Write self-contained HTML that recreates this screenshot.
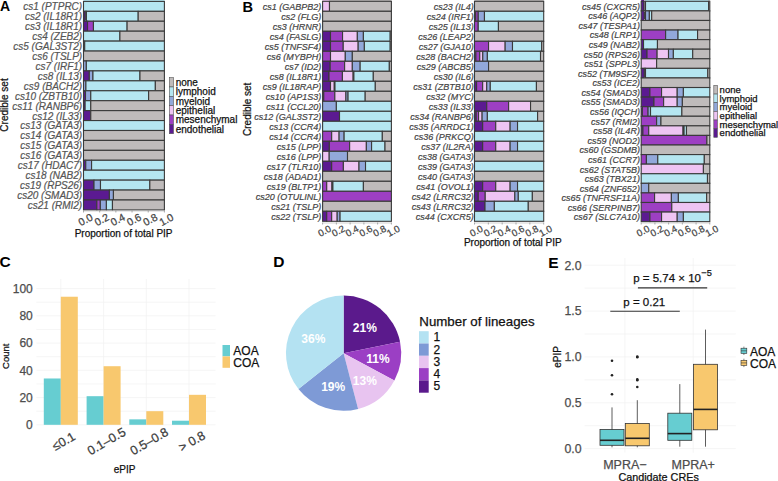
<!DOCTYPE html>
<html><head><meta charset="utf-8"><style>html,body{margin:0;padding:0;background:#fff;}svg{display:block;}</style></head><body>
<svg width="778" height="481" viewBox="0 0 778 481" font-family='"Liberation Sans", sans-serif'>
<rect width="778" height="481" fill="#fff"/>
<rect x="83.50" y="0" width="80.90" height="2.40" fill="#b5e6f1"/>
<rect x="83.50" y="1.40" width="80.90" height="9.93" fill="#b5e6f1" stroke="#3a3a3a" stroke-width="1.1"/>
<rect x="83.50" y="11.33" width="1.78" height="9.93" fill="#5b1a91" stroke="#3a3a3a" stroke-width="1.1"/>
<rect x="85.28" y="11.33" width="1.13" height="9.93" fill="#92a8da" stroke="#3a3a3a" stroke-width="1.1"/>
<rect x="86.41" y="11.33" width="51.78" height="9.93" fill="#b5e6f1" stroke="#3a3a3a" stroke-width="1.1"/>
<rect x="138.19" y="11.33" width="26.21" height="9.93" fill="#bfbbbb" stroke="#3a3a3a" stroke-width="1.1"/>
<rect x="83.50" y="21.26" width="4.05" height="9.93" fill="#5b1a91" stroke="#3a3a3a" stroke-width="1.1"/>
<rect x="87.55" y="21.26" width="5.91" height="9.93" fill="#9d3fc3" stroke="#3a3a3a" stroke-width="1.1"/>
<rect x="93.45" y="21.26" width="33.65" height="9.93" fill="#b5e6f1" stroke="#3a3a3a" stroke-width="1.1"/>
<rect x="127.11" y="21.26" width="37.29" height="9.93" fill="#bfbbbb" stroke="#3a3a3a" stroke-width="1.1"/>
<rect x="83.50" y="31.19" width="36.41" height="9.93" fill="#b5e6f1" stroke="#3a3a3a" stroke-width="1.1"/>
<rect x="119.91" y="31.19" width="44.50" height="9.93" fill="#bfbbbb" stroke="#3a3a3a" stroke-width="1.1"/>
<rect x="83.50" y="41.12" width="1.21" height="9.93" fill="#5b1a91" stroke="#3a3a3a" stroke-width="1.1"/>
<rect x="84.71" y="41.12" width="79.69" height="9.93" fill="#b5e6f1" stroke="#3a3a3a" stroke-width="1.1"/>
<rect x="83.50" y="51.05" width="80.90" height="9.93" fill="#bfbbbb" stroke="#3a3a3a" stroke-width="1.1"/>
<rect x="83.50" y="60.98" width="2.83" height="9.93" fill="#92a8da" stroke="#3a3a3a" stroke-width="1.1"/>
<rect x="86.33" y="60.98" width="78.07" height="9.93" fill="#b5e6f1" stroke="#3a3a3a" stroke-width="1.1"/>
<rect x="83.50" y="70.91" width="5.82" height="9.93" fill="#5b1a91" stroke="#3a3a3a" stroke-width="1.1"/>
<rect x="89.32" y="70.91" width="3.64" height="9.93" fill="#92a8da" stroke="#3a3a3a" stroke-width="1.1"/>
<rect x="92.97" y="70.91" width="47.00" height="9.93" fill="#b5e6f1" stroke="#3a3a3a" stroke-width="1.1"/>
<rect x="139.97" y="70.91" width="24.43" height="9.93" fill="#bfbbbb" stroke="#3a3a3a" stroke-width="1.1"/>
<rect x="83.50" y="80.84" width="2.43" height="9.93" fill="#92a8da" stroke="#3a3a3a" stroke-width="1.1"/>
<rect x="85.93" y="80.84" width="69.41" height="9.93" fill="#b5e6f1" stroke="#3a3a3a" stroke-width="1.1"/>
<rect x="155.34" y="80.84" width="9.06" height="9.93" fill="#bfbbbb" stroke="#3a3a3a" stroke-width="1.1"/>
<rect x="83.50" y="90.77" width="2.02" height="9.93" fill="#5b1a91" stroke="#3a3a3a" stroke-width="1.1"/>
<rect x="85.52" y="90.77" width="5.26" height="9.93" fill="#92a8da" stroke="#3a3a3a" stroke-width="1.1"/>
<rect x="90.78" y="90.77" width="57.84" height="9.93" fill="#b5e6f1" stroke="#3a3a3a" stroke-width="1.1"/>
<rect x="148.62" y="90.77" width="15.78" height="9.93" fill="#bfbbbb" stroke="#3a3a3a" stroke-width="1.1"/>
<rect x="83.50" y="100.70" width="1.62" height="9.93" fill="#5b1a91" stroke="#3a3a3a" stroke-width="1.1"/>
<rect x="85.12" y="100.70" width="5.66" height="9.93" fill="#b5e6f1" stroke="#3a3a3a" stroke-width="1.1"/>
<rect x="90.78" y="100.70" width="73.62" height="9.93" fill="#bfbbbb" stroke="#3a3a3a" stroke-width="1.1"/>
<rect x="83.50" y="110.63" width="7.28" height="9.93" fill="#5b1a91" stroke="#3a3a3a" stroke-width="1.1"/>
<rect x="90.78" y="110.63" width="73.62" height="9.93" fill="#bfbbbb" stroke="#3a3a3a" stroke-width="1.1"/>
<rect x="83.50" y="120.56" width="80.90" height="9.93" fill="#b5e6f1" stroke="#3a3a3a" stroke-width="1.1"/>
<rect x="83.50" y="130.49" width="80.90" height="9.93" fill="#bfbbbb" stroke="#3a3a3a" stroke-width="1.1"/>
<rect x="83.50" y="140.42" width="80.90" height="9.93" fill="#bfbbbb" stroke="#3a3a3a" stroke-width="1.1"/>
<rect x="83.50" y="150.35" width="80.90" height="9.93" fill="#bfbbbb" stroke="#3a3a3a" stroke-width="1.1"/>
<rect x="83.50" y="160.28" width="2.27" height="9.93" fill="#5b1a91" stroke="#3a3a3a" stroke-width="1.1"/>
<rect x="85.77" y="160.28" width="5.82" height="9.93" fill="#92a8da" stroke="#3a3a3a" stroke-width="1.1"/>
<rect x="91.59" y="160.28" width="72.81" height="9.93" fill="#b5e6f1" stroke="#3a3a3a" stroke-width="1.1"/>
<rect x="83.50" y="170.21" width="80.90" height="9.93" fill="#b5e6f1" stroke="#3a3a3a" stroke-width="1.1"/>
<rect x="83.50" y="180.14" width="10.52" height="9.93" fill="#5b1a91" stroke="#3a3a3a" stroke-width="1.1"/>
<rect x="94.02" y="180.14" width="6.47" height="9.93" fill="#92a8da" stroke="#3a3a3a" stroke-width="1.1"/>
<rect x="100.49" y="180.14" width="49.35" height="9.93" fill="#b5e6f1" stroke="#3a3a3a" stroke-width="1.1"/>
<rect x="149.84" y="180.14" width="14.56" height="9.93" fill="#bfbbbb" stroke="#3a3a3a" stroke-width="1.1"/>
<rect x="83.50" y="190.07" width="25.89" height="9.93" fill="#5b1a91" stroke="#3a3a3a" stroke-width="1.1"/>
<rect x="109.39" y="190.07" width="4.05" height="9.93" fill="#92a8da" stroke="#3a3a3a" stroke-width="1.1"/>
<rect x="113.43" y="190.07" width="50.97" height="9.93" fill="#bfbbbb" stroke="#3a3a3a" stroke-width="1.1"/>
<rect x="83.50" y="200.00" width="13.35" height="9.93" fill="#5b1a91" stroke="#3a3a3a" stroke-width="1.1"/>
<rect x="96.85" y="200.00" width="3.48" height="9.93" fill="#9d3fc3" stroke="#3a3a3a" stroke-width="1.1"/>
<rect x="100.33" y="200.00" width="6.07" height="9.93" fill="#92a8da" stroke="#3a3a3a" stroke-width="1.1"/>
<rect x="106.39" y="200.00" width="6.07" height="9.93" fill="#b5e6f1" stroke="#3a3a3a" stroke-width="1.1"/>
<rect x="112.46" y="200.00" width="51.94" height="9.93" fill="#bfbbbb" stroke="#3a3a3a" stroke-width="1.1"/>
<text x="82.20" y="10.27" text-anchor="end" font-style="italic" font-size="10" fill="#555" stroke="#555" stroke-width="0.2">cs1 (PTPRC)</text>
<text x="82.20" y="20.19" text-anchor="end" font-style="italic" font-size="10" fill="#555" stroke="#555" stroke-width="0.2">cs2 (IL18R1)</text>
<text x="82.20" y="30.12" text-anchor="end" font-style="italic" font-size="10" fill="#555" stroke="#555" stroke-width="0.2">cs3 (IL18R1)</text>
<text x="82.20" y="40.05" text-anchor="end" font-style="italic" font-size="10" fill="#555" stroke="#555" stroke-width="0.2">cs4 (ZEB2)</text>
<text x="82.20" y="49.98" text-anchor="end" font-style="italic" font-size="10" fill="#555" stroke="#555" stroke-width="0.2">cs5 (GAL3ST2)</text>
<text x="82.20" y="59.91" text-anchor="end" font-style="italic" font-size="10" fill="#555" stroke="#555" stroke-width="0.2">cs6 (TSLP)</text>
<text x="82.20" y="69.85" text-anchor="end" font-style="italic" font-size="10" fill="#555" stroke="#555" stroke-width="0.2">cs7 (IRF1)</text>
<text x="82.20" y="79.78" text-anchor="end" font-style="italic" font-size="10" fill="#555" stroke="#555" stroke-width="0.2">cs8 (IL13)</text>
<text x="82.20" y="89.71" text-anchor="end" font-style="italic" font-size="10" fill="#555" stroke="#555" stroke-width="0.2">cs9 (BACH2)</text>
<text x="82.20" y="99.64" text-anchor="end" font-style="italic" font-size="10" fill="#555" stroke="#555" stroke-width="0.2">cs10 (ZBTB10)</text>
<text x="82.20" y="109.57" text-anchor="end" font-style="italic" font-size="10" fill="#555" stroke="#555" stroke-width="0.2">cs11 (RANBP6)</text>
<text x="82.20" y="119.50" text-anchor="end" font-style="italic" font-size="10" fill="#555" stroke="#555" stroke-width="0.2">cs12 (IL33)</text>
<text x="82.20" y="129.43" text-anchor="end" font-style="italic" font-size="10" fill="#555" stroke="#555" stroke-width="0.2">cs13 (GATA3)</text>
<text x="82.20" y="139.36" text-anchor="end" font-style="italic" font-size="10" fill="#555" stroke="#555" stroke-width="0.2">cs14 (GATA3)</text>
<text x="82.20" y="149.28" text-anchor="end" font-style="italic" font-size="10" fill="#555" stroke="#555" stroke-width="0.2">cs15 (GATA3)</text>
<text x="82.20" y="159.22" text-anchor="end" font-style="italic" font-size="10" fill="#555" stroke="#555" stroke-width="0.2">cs16 (GATA3)</text>
<text x="82.20" y="169.15" text-anchor="end" font-style="italic" font-size="10" fill="#555" stroke="#555" stroke-width="0.2">cs17 (HDAC7)</text>
<text x="82.20" y="179.08" text-anchor="end" font-style="italic" font-size="10" fill="#555" stroke="#555" stroke-width="0.2">cs18 (NAB2)</text>
<text x="82.20" y="189.00" text-anchor="end" font-style="italic" font-size="10" fill="#555" stroke="#555" stroke-width="0.2">cs19 (RPS26)</text>
<text x="82.20" y="198.94" text-anchor="end" font-style="italic" font-size="10" fill="#555" stroke="#555" stroke-width="0.2">cs20 (SMAD3)</text>
<text x="82.20" y="208.87" text-anchor="end" font-style="italic" font-size="10" fill="#555" stroke="#555" stroke-width="0.2">cs21 (RMI2)</text>
<line x1="83.50" y1="211.00" x2="164.40" y2="211.00" stroke="#c8c8c8" stroke-width="0.8"/>
<line x1="83.50" y1="210.50" x2="83.50" y2="212.50" stroke="#888" stroke-width="0.7"/>
<text x="0" y="0" transform="translate(85.30,219.30) rotate(-28)" text-anchor="middle" dominant-baseline="central" font-size="10.5" fill="#444" stroke="#444" stroke-width="0.25">0.0</text>
<line x1="99.68" y1="210.50" x2="99.68" y2="212.50" stroke="#888" stroke-width="0.7"/>
<text x="0" y="0" transform="translate(101.48,219.30) rotate(-28)" text-anchor="middle" dominant-baseline="central" font-size="10.5" fill="#444" stroke="#444" stroke-width="0.25">0.2</text>
<line x1="115.86" y1="210.50" x2="115.86" y2="212.50" stroke="#888" stroke-width="0.7"/>
<text x="0" y="0" transform="translate(117.66,219.30) rotate(-28)" text-anchor="middle" dominant-baseline="central" font-size="10.5" fill="#444" stroke="#444" stroke-width="0.25">0.4</text>
<line x1="132.04" y1="210.50" x2="132.04" y2="212.50" stroke="#888" stroke-width="0.7"/>
<text x="0" y="0" transform="translate(133.84,219.30) rotate(-28)" text-anchor="middle" dominant-baseline="central" font-size="10.5" fill="#444" stroke="#444" stroke-width="0.25">0.6</text>
<line x1="148.22" y1="210.50" x2="148.22" y2="212.50" stroke="#888" stroke-width="0.7"/>
<text x="0" y="0" transform="translate(150.02,219.30) rotate(-28)" text-anchor="middle" dominant-baseline="central" font-size="10.5" fill="#444" stroke="#444" stroke-width="0.25">0.8</text>
<line x1="164.40" y1="210.50" x2="164.40" y2="212.50" stroke="#888" stroke-width="0.7"/>
<text x="0" y="0" transform="translate(166.20,219.30) rotate(-28)" text-anchor="middle" dominant-baseline="central" font-size="10.5" fill="#444" stroke="#444" stroke-width="0.25">1.0</text>
<text x="123.6" y="236.8" text-anchor="middle" font-size="10" fill="#111" stroke="#111" stroke-width="0.25">Proportion of total PIP</text>
<text transform="translate(8,105) rotate(-90)" text-anchor="middle" font-size="10" fill="#111" stroke="#111" stroke-width="0.25">Credible set</text>
<rect x="169.30" y="77.60" width="4.20" height="9.35" fill="#bfbbbb" stroke="#555" stroke-width="0.6"/>
<text x="175.70" y="85.87" font-size="10" fill="#111" stroke="#111" stroke-width="0.25">none</text>
<rect x="169.30" y="86.95" width="4.20" height="9.35" fill="#b5e6f1" stroke="#555" stroke-width="0.6"/>
<text x="175.70" y="95.22" font-size="10" fill="#111" stroke="#111" stroke-width="0.25">lymphoid</text>
<rect x="169.30" y="96.30" width="4.20" height="9.35" fill="#92a8da" stroke="#555" stroke-width="0.6"/>
<text x="175.70" y="104.57" font-size="10" fill="#111" stroke="#111" stroke-width="0.25">myeloid</text>
<rect x="169.30" y="105.65" width="4.20" height="9.35" fill="#eec4f3" stroke="#555" stroke-width="0.6"/>
<text x="175.70" y="113.92" font-size="10" fill="#111" stroke="#111" stroke-width="0.25">epithelial</text>
<rect x="169.30" y="115.00" width="4.20" height="9.35" fill="#9d3fc3" stroke="#555" stroke-width="0.6"/>
<text x="175.70" y="123.27" font-size="10" fill="#111" stroke="#111" stroke-width="0.25">mesenchymal</text>
<rect x="169.30" y="124.35" width="4.20" height="9.35" fill="#5b1a91" stroke="#555" stroke-width="0.6"/>
<text x="175.70" y="132.62" font-size="10" fill="#111" stroke="#111" stroke-width="0.25">endothelial</text>
<text x="0" y="11.3" font-size="14" font-weight="bold" fill="#000">A</text>
<text x="242.6" y="11.6" font-size="14.6" font-weight="bold" fill="#000">B</text>
<text transform="translate(250.5,109.3) rotate(-90)" text-anchor="middle" font-size="10" fill="#111" stroke="#111" stroke-width="0.25">Credible set</text>
<rect x="322.60" y="0" width="6.88" height="2.30" fill="#eec4f3"/>
<rect x="322.60" y="1.30" width="6.88" height="10.00" fill="#eec4f3" stroke="#3a3a3a" stroke-width="1.1"/>
<rect x="329.48" y="0" width="61.92" height="2.30" fill="#bfbbbb"/>
<rect x="329.48" y="1.30" width="61.92" height="10.00" fill="#bfbbbb" stroke="#3a3a3a" stroke-width="1.1"/>
<rect x="322.60" y="11.30" width="68.80" height="10.00" fill="#bfbbbb" stroke="#3a3a3a" stroke-width="1.1"/>
<rect x="322.60" y="21.30" width="68.80" height="10.00" fill="#bfbbbb" stroke="#3a3a3a" stroke-width="1.1"/>
<rect x="322.60" y="31.30" width="7.91" height="10.00" fill="#5b1a91" stroke="#3a3a3a" stroke-width="1.1"/>
<rect x="330.51" y="31.30" width="12.04" height="10.00" fill="#9d3fc3" stroke="#3a3a3a" stroke-width="1.1"/>
<rect x="342.55" y="31.30" width="14.79" height="10.00" fill="#eec4f3" stroke="#3a3a3a" stroke-width="1.1"/>
<rect x="357.34" y="31.30" width="6.05" height="10.00" fill="#92a8da" stroke="#3a3a3a" stroke-width="1.1"/>
<rect x="363.40" y="31.30" width="26.83" height="10.00" fill="#b5e6f1" stroke="#3a3a3a" stroke-width="1.1"/>
<rect x="390.23" y="31.30" width="1.17" height="10.00" fill="#bfbbbb" stroke="#3a3a3a" stroke-width="1.1"/>
<rect x="322.60" y="41.30" width="7.91" height="10.00" fill="#5b1a91" stroke="#3a3a3a" stroke-width="1.1"/>
<rect x="330.51" y="41.30" width="12.73" height="10.00" fill="#9d3fc3" stroke="#3a3a3a" stroke-width="1.1"/>
<rect x="343.24" y="41.30" width="14.93" height="10.00" fill="#eec4f3" stroke="#3a3a3a" stroke-width="1.1"/>
<rect x="358.17" y="41.30" width="6.19" height="10.00" fill="#92a8da" stroke="#3a3a3a" stroke-width="1.1"/>
<rect x="364.36" y="41.30" width="25.87" height="10.00" fill="#b5e6f1" stroke="#3a3a3a" stroke-width="1.1"/>
<rect x="390.23" y="41.30" width="1.17" height="10.00" fill="#bfbbbb" stroke="#3a3a3a" stroke-width="1.1"/>
<rect x="322.60" y="51.30" width="7.91" height="10.00" fill="#9d3fc3" stroke="#3a3a3a" stroke-width="1.1"/>
<rect x="330.51" y="51.30" width="14.79" height="10.00" fill="#eec4f3" stroke="#3a3a3a" stroke-width="1.1"/>
<rect x="345.30" y="51.30" width="7.02" height="10.00" fill="#92a8da" stroke="#3a3a3a" stroke-width="1.1"/>
<rect x="352.32" y="51.30" width="39.08" height="10.00" fill="#bfbbbb" stroke="#3a3a3a" stroke-width="1.1"/>
<rect x="322.60" y="61.30" width="7.57" height="10.00" fill="#5b1a91" stroke="#3a3a3a" stroke-width="1.1"/>
<rect x="330.17" y="61.30" width="14.45" height="10.00" fill="#9d3fc3" stroke="#3a3a3a" stroke-width="1.1"/>
<rect x="344.62" y="61.30" width="7.71" height="10.00" fill="#eec4f3" stroke="#3a3a3a" stroke-width="1.1"/>
<rect x="352.32" y="61.30" width="7.84" height="10.00" fill="#92a8da" stroke="#3a3a3a" stroke-width="1.1"/>
<rect x="360.16" y="61.30" width="29.17" height="10.00" fill="#b5e6f1" stroke="#3a3a3a" stroke-width="1.1"/>
<rect x="389.34" y="61.30" width="2.06" height="10.00" fill="#bfbbbb" stroke="#3a3a3a" stroke-width="1.1"/>
<rect x="322.60" y="71.30" width="6.40" height="10.00" fill="#5b1a91" stroke="#3a3a3a" stroke-width="1.1"/>
<rect x="329.00" y="71.30" width="13.42" height="10.00" fill="#9d3fc3" stroke="#3a3a3a" stroke-width="1.1"/>
<rect x="342.41" y="71.30" width="10.73" height="10.00" fill="#eec4f3" stroke="#3a3a3a" stroke-width="1.1"/>
<rect x="353.15" y="71.30" width="0.76" height="10.00" fill="#92a8da" stroke="#3a3a3a" stroke-width="1.1"/>
<rect x="353.90" y="71.30" width="19.40" height="10.00" fill="#b5e6f1" stroke="#3a3a3a" stroke-width="1.1"/>
<rect x="373.31" y="71.30" width="18.09" height="10.00" fill="#bfbbbb" stroke="#3a3a3a" stroke-width="1.1"/>
<rect x="322.60" y="81.30" width="7.91" height="10.00" fill="#5b1a91" stroke="#3a3a3a" stroke-width="1.1"/>
<rect x="330.51" y="81.30" width="3.78" height="10.00" fill="#eec4f3" stroke="#3a3a3a" stroke-width="1.1"/>
<rect x="334.30" y="81.30" width="0.69" height="10.00" fill="#92a8da" stroke="#3a3a3a" stroke-width="1.1"/>
<rect x="334.98" y="81.30" width="40.32" height="10.00" fill="#b5e6f1" stroke="#3a3a3a" stroke-width="1.1"/>
<rect x="375.30" y="81.30" width="16.10" height="10.00" fill="#bfbbbb" stroke="#3a3a3a" stroke-width="1.1"/>
<rect x="322.60" y="91.30" width="1.17" height="10.00" fill="#5b1a91" stroke="#3a3a3a" stroke-width="1.1"/>
<rect x="323.77" y="91.30" width="11.08" height="10.00" fill="#9d3fc3" stroke="#3a3a3a" stroke-width="1.1"/>
<rect x="334.85" y="91.30" width="11.08" height="10.00" fill="#eec4f3" stroke="#3a3a3a" stroke-width="1.1"/>
<rect x="345.92" y="91.30" width="2.13" height="10.00" fill="#92a8da" stroke="#3a3a3a" stroke-width="1.1"/>
<rect x="348.06" y="91.30" width="17.13" height="10.00" fill="#b5e6f1" stroke="#3a3a3a" stroke-width="1.1"/>
<rect x="365.19" y="91.30" width="26.21" height="10.00" fill="#bfbbbb" stroke="#3a3a3a" stroke-width="1.1"/>
<rect x="322.60" y="101.30" width="13.76" height="10.00" fill="#92a8da" stroke="#3a3a3a" stroke-width="1.1"/>
<rect x="336.36" y="101.30" width="55.04" height="10.00" fill="#b5e6f1" stroke="#3a3a3a" stroke-width="1.1"/>
<rect x="322.60" y="111.30" width="16.92" height="10.00" fill="#5b1a91" stroke="#3a3a3a" stroke-width="1.1"/>
<rect x="339.52" y="111.30" width="51.88" height="10.00" fill="#b5e6f1" stroke="#3a3a3a" stroke-width="1.1"/>
<rect x="322.60" y="121.30" width="68.80" height="10.00" fill="#b5e6f1" stroke="#3a3a3a" stroke-width="1.1"/>
<rect x="322.60" y="131.30" width="9.08" height="10.00" fill="#9d3fc3" stroke="#3a3a3a" stroke-width="1.1"/>
<rect x="331.68" y="131.30" width="7.43" height="10.00" fill="#eec4f3" stroke="#3a3a3a" stroke-width="1.1"/>
<rect x="339.11" y="131.30" width="5.02" height="10.00" fill="#92a8da" stroke="#3a3a3a" stroke-width="1.1"/>
<rect x="344.13" y="131.30" width="38.18" height="10.00" fill="#b5e6f1" stroke="#3a3a3a" stroke-width="1.1"/>
<rect x="382.32" y="131.30" width="9.08" height="10.00" fill="#bfbbbb" stroke="#3a3a3a" stroke-width="1.1"/>
<rect x="322.60" y="141.30" width="6.74" height="10.00" fill="#5b1a91" stroke="#3a3a3a" stroke-width="1.1"/>
<rect x="329.34" y="141.30" width="20.30" height="10.00" fill="#9d3fc3" stroke="#3a3a3a" stroke-width="1.1"/>
<rect x="349.64" y="141.30" width="16.72" height="10.00" fill="#eec4f3" stroke="#3a3a3a" stroke-width="1.1"/>
<rect x="366.36" y="141.30" width="5.23" height="10.00" fill="#92a8da" stroke="#3a3a3a" stroke-width="1.1"/>
<rect x="371.59" y="141.30" width="13.42" height="10.00" fill="#b5e6f1" stroke="#3a3a3a" stroke-width="1.1"/>
<rect x="385.00" y="141.30" width="6.40" height="10.00" fill="#bfbbbb" stroke="#3a3a3a" stroke-width="1.1"/>
<rect x="322.60" y="151.30" width="6.60" height="10.00" fill="#eec4f3" stroke="#3a3a3a" stroke-width="1.1"/>
<rect x="329.20" y="151.30" width="18.30" height="10.00" fill="#92a8da" stroke="#3a3a3a" stroke-width="1.1"/>
<rect x="347.51" y="151.30" width="43.89" height="10.00" fill="#bfbbbb" stroke="#3a3a3a" stroke-width="1.1"/>
<rect x="322.60" y="161.30" width="9.08" height="10.00" fill="#5b1a91" stroke="#3a3a3a" stroke-width="1.1"/>
<rect x="331.68" y="161.30" width="11.70" height="10.00" fill="#9d3fc3" stroke="#3a3a3a" stroke-width="1.1"/>
<rect x="343.38" y="161.30" width="15.62" height="10.00" fill="#eec4f3" stroke="#3a3a3a" stroke-width="1.1"/>
<rect x="359.00" y="161.30" width="6.54" height="10.00" fill="#92a8da" stroke="#3a3a3a" stroke-width="1.1"/>
<rect x="365.53" y="161.30" width="25.87" height="10.00" fill="#b5e6f1" stroke="#3a3a3a" stroke-width="1.1"/>
<rect x="322.60" y="171.30" width="68.80" height="10.00" fill="#bfbbbb" stroke="#3a3a3a" stroke-width="1.1"/>
<rect x="322.60" y="181.30" width="4.13" height="10.00" fill="#9d3fc3" stroke="#3a3a3a" stroke-width="1.1"/>
<rect x="326.73" y="181.30" width="5.23" height="10.00" fill="#eec4f3" stroke="#3a3a3a" stroke-width="1.1"/>
<rect x="331.96" y="181.30" width="0.96" height="10.00" fill="#92a8da" stroke="#3a3a3a" stroke-width="1.1"/>
<rect x="332.92" y="181.30" width="30.48" height="10.00" fill="#b5e6f1" stroke="#3a3a3a" stroke-width="1.1"/>
<rect x="363.40" y="181.30" width="28.00" height="10.00" fill="#bfbbbb" stroke="#3a3a3a" stroke-width="1.1"/>
<rect x="322.60" y="191.30" width="68.80" height="10.00" fill="#9d3fc3" stroke="#3a3a3a" stroke-width="1.1"/>
<rect x="322.60" y="201.30" width="68.80" height="10.00" fill="#bfbbbb" stroke="#3a3a3a" stroke-width="1.1"/>
<rect x="322.60" y="211.30" width="4.13" height="10.00" fill="#5b1a91" stroke="#3a3a3a" stroke-width="1.1"/>
<rect x="326.73" y="211.30" width="4.95" height="10.00" fill="#9d3fc3" stroke="#3a3a3a" stroke-width="1.1"/>
<rect x="331.68" y="211.30" width="5.50" height="10.00" fill="#eec4f3" stroke="#3a3a3a" stroke-width="1.1"/>
<rect x="337.19" y="211.30" width="2.89" height="10.00" fill="#92a8da" stroke="#3a3a3a" stroke-width="1.1"/>
<rect x="340.08" y="211.30" width="51.32" height="10.00" fill="#b5e6f1" stroke="#3a3a3a" stroke-width="1.1"/>
<text x="321.20" y="9.90" text-anchor="end" font-style="italic" font-size="9" fill="#444" stroke="#444" stroke-width="0.2">cs1 (GABPB2)</text>
<text x="321.20" y="19.90" text-anchor="end" font-style="italic" font-size="9" fill="#444" stroke="#444" stroke-width="0.2">cs2 (FLG)</text>
<text x="321.20" y="29.90" text-anchor="end" font-style="italic" font-size="9" fill="#444" stroke="#444" stroke-width="0.2">cs3 (HRNR)</text>
<text x="321.20" y="39.90" text-anchor="end" font-style="italic" font-size="9" fill="#444" stroke="#444" stroke-width="0.2">cs4 (FASLG)</text>
<text x="321.20" y="49.90" text-anchor="end" font-style="italic" font-size="9" fill="#444" stroke="#444" stroke-width="0.2">cs5 (TNFSF4)</text>
<text x="321.20" y="59.90" text-anchor="end" font-style="italic" font-size="9" fill="#444" stroke="#444" stroke-width="0.2">cs6 (MYBPH)</text>
<text x="321.20" y="69.90" text-anchor="end" font-style="italic" font-size="9" fill="#444" stroke="#444" stroke-width="0.2">cs7 (ID2)</text>
<text x="321.20" y="79.90" text-anchor="end" font-style="italic" font-size="9" fill="#444" stroke="#444" stroke-width="0.2">cs8 (IL18R1)</text>
<text x="321.20" y="89.90" text-anchor="end" font-style="italic" font-size="9" fill="#444" stroke="#444" stroke-width="0.2">cs9 (IL18RAP)</text>
<text x="321.20" y="99.90" text-anchor="end" font-style="italic" font-size="9" fill="#444" stroke="#444" stroke-width="0.2">cs10 (AP1S3)</text>
<text x="321.20" y="109.90" text-anchor="end" font-style="italic" font-size="9" fill="#444" stroke="#444" stroke-width="0.2">cs11 (CCL20)</text>
<text x="321.20" y="119.90" text-anchor="end" font-style="italic" font-size="9" fill="#444" stroke="#444" stroke-width="0.2">cs12 (GAL3ST2)</text>
<text x="321.20" y="129.90" text-anchor="end" font-style="italic" font-size="9" fill="#444" stroke="#444" stroke-width="0.2">cs13 (CCR4)</text>
<text x="321.20" y="139.90" text-anchor="end" font-style="italic" font-size="9" fill="#444" stroke="#444" stroke-width="0.2">cs14 (CCR4)</text>
<text x="321.20" y="149.90" text-anchor="end" font-style="italic" font-size="9" fill="#444" stroke="#444" stroke-width="0.2">cs15 (LPP)</text>
<text x="321.20" y="159.90" text-anchor="end" font-style="italic" font-size="9" fill="#444" stroke="#444" stroke-width="0.2">cs16 (LPP)</text>
<text x="321.20" y="169.90" text-anchor="end" font-style="italic" font-size="9" fill="#444" stroke="#444" stroke-width="0.2">cs17 (TLR10)</text>
<text x="321.20" y="179.90" text-anchor="end" font-style="italic" font-size="9" fill="#444" stroke="#444" stroke-width="0.2">cs18 (ADAD1)</text>
<text x="321.20" y="189.90" text-anchor="end" font-style="italic" font-size="9" fill="#444" stroke="#444" stroke-width="0.2">cs19 (BLTP1)</text>
<text x="321.20" y="199.90" text-anchor="end" font-style="italic" font-size="9" fill="#444" stroke="#444" stroke-width="0.2">cs20 (OTULINL)</text>
<text x="321.20" y="209.90" text-anchor="end" font-style="italic" font-size="9" fill="#444" stroke="#444" stroke-width="0.2">cs21 (TSLP)</text>
<text x="321.20" y="219.90" text-anchor="end" font-style="italic" font-size="9" fill="#444" stroke="#444" stroke-width="0.2">cs22 (TSLP)</text>
<line x1="322.60" y1="223.00" x2="391.40" y2="223.00" stroke="#c8c8c8" stroke-width="0.8"/>
<line x1="322.60" y1="222.50" x2="322.60" y2="224.50" stroke="#888" stroke-width="0.7"/>
<text x="0" y="0" transform="translate(324.40,230.80) rotate(-28)" text-anchor="middle" dominant-baseline="central" font-size="9.5" fill="#444" stroke="#444" stroke-width="0.25">0.0</text>
<line x1="336.36" y1="222.50" x2="336.36" y2="224.50" stroke="#888" stroke-width="0.7"/>
<text x="0" y="0" transform="translate(338.16,230.80) rotate(-28)" text-anchor="middle" dominant-baseline="central" font-size="9.5" fill="#444" stroke="#444" stroke-width="0.25">0.2</text>
<line x1="350.12" y1="222.50" x2="350.12" y2="224.50" stroke="#888" stroke-width="0.7"/>
<text x="0" y="0" transform="translate(351.92,230.80) rotate(-28)" text-anchor="middle" dominant-baseline="central" font-size="9.5" fill="#444" stroke="#444" stroke-width="0.25">0.4</text>
<line x1="363.88" y1="222.50" x2="363.88" y2="224.50" stroke="#888" stroke-width="0.7"/>
<text x="0" y="0" transform="translate(365.68,230.80) rotate(-28)" text-anchor="middle" dominant-baseline="central" font-size="9.5" fill="#444" stroke="#444" stroke-width="0.25">0.6</text>
<line x1="377.64" y1="222.50" x2="377.64" y2="224.50" stroke="#888" stroke-width="0.7"/>
<text x="0" y="0" transform="translate(379.44,230.80) rotate(-28)" text-anchor="middle" dominant-baseline="central" font-size="9.5" fill="#444" stroke="#444" stroke-width="0.25">0.8</text>
<line x1="391.40" y1="222.50" x2="391.40" y2="224.50" stroke="#888" stroke-width="0.7"/>
<text x="0" y="0" transform="translate(393.20,230.80) rotate(-28)" text-anchor="middle" dominant-baseline="central" font-size="9.5" fill="#444" stroke="#444" stroke-width="0.25">1.0</text>
<rect x="474.50" y="0" width="69.20" height="2.30" fill="#bfbbbb"/>
<rect x="474.50" y="1.30" width="69.20" height="10.00" fill="#bfbbbb" stroke="#3a3a3a" stroke-width="1.1"/>
<rect x="474.50" y="11.30" width="1.18" height="10.00" fill="#5b1a91" stroke="#3a3a3a" stroke-width="1.1"/>
<rect x="475.68" y="11.30" width="2.56" height="10.00" fill="#9d3fc3" stroke="#3a3a3a" stroke-width="1.1"/>
<rect x="478.24" y="11.30" width="6.23" height="10.00" fill="#92a8da" stroke="#3a3a3a" stroke-width="1.1"/>
<rect x="484.46" y="11.30" width="59.24" height="10.00" fill="#b5e6f1" stroke="#3a3a3a" stroke-width="1.1"/>
<rect x="474.50" y="21.30" width="3.74" height="10.00" fill="#9d3fc3" stroke="#3a3a3a" stroke-width="1.1"/>
<rect x="478.24" y="21.30" width="20.21" height="10.00" fill="#b5e6f1" stroke="#3a3a3a" stroke-width="1.1"/>
<rect x="498.44" y="21.30" width="45.26" height="10.00" fill="#bfbbbb" stroke="#3a3a3a" stroke-width="1.1"/>
<rect x="474.50" y="31.30" width="69.20" height="10.00" fill="#bfbbbb" stroke="#3a3a3a" stroke-width="1.1"/>
<rect x="474.50" y="41.30" width="14.05" height="10.00" fill="#9d3fc3" stroke="#3a3a3a" stroke-width="1.1"/>
<rect x="488.55" y="41.30" width="16.61" height="10.00" fill="#eec4f3" stroke="#3a3a3a" stroke-width="1.1"/>
<rect x="505.16" y="41.30" width="7.34" height="10.00" fill="#92a8da" stroke="#3a3a3a" stroke-width="1.1"/>
<rect x="512.49" y="41.30" width="29.20" height="10.00" fill="#b5e6f1" stroke="#3a3a3a" stroke-width="1.1"/>
<rect x="541.69" y="41.30" width="2.01" height="10.00" fill="#bfbbbb" stroke="#3a3a3a" stroke-width="1.1"/>
<rect x="474.50" y="51.30" width="1.38" height="10.00" fill="#5b1a91" stroke="#3a3a3a" stroke-width="1.1"/>
<rect x="475.88" y="51.30" width="3.88" height="10.00" fill="#9d3fc3" stroke="#3a3a3a" stroke-width="1.1"/>
<rect x="479.76" y="51.30" width="3.04" height="10.00" fill="#eec4f3" stroke="#3a3a3a" stroke-width="1.1"/>
<rect x="482.80" y="51.30" width="4.57" height="10.00" fill="#92a8da" stroke="#3a3a3a" stroke-width="1.1"/>
<rect x="487.37" y="51.30" width="53.15" height="10.00" fill="#b5e6f1" stroke="#3a3a3a" stroke-width="1.1"/>
<rect x="540.52" y="51.30" width="3.18" height="10.00" fill="#bfbbbb" stroke="#3a3a3a" stroke-width="1.1"/>
<rect x="474.50" y="61.30" width="14.05" height="10.00" fill="#92a8da" stroke="#3a3a3a" stroke-width="1.1"/>
<rect x="488.55" y="61.30" width="55.15" height="10.00" fill="#bfbbbb" stroke="#3a3a3a" stroke-width="1.1"/>
<rect x="474.50" y="71.30" width="69.20" height="10.00" fill="#bfbbbb" stroke="#3a3a3a" stroke-width="1.1"/>
<rect x="474.50" y="81.30" width="2.08" height="10.00" fill="#5b1a91" stroke="#3a3a3a" stroke-width="1.1"/>
<rect x="476.58" y="81.30" width="6.09" height="10.00" fill="#9d3fc3" stroke="#3a3a3a" stroke-width="1.1"/>
<rect x="482.67" y="81.30" width="4.08" height="10.00" fill="#eec4f3" stroke="#3a3a3a" stroke-width="1.1"/>
<rect x="486.75" y="81.30" width="3.53" height="10.00" fill="#92a8da" stroke="#3a3a3a" stroke-width="1.1"/>
<rect x="490.28" y="81.30" width="46.16" height="10.00" fill="#b5e6f1" stroke="#3a3a3a" stroke-width="1.1"/>
<rect x="536.43" y="81.30" width="7.27" height="10.00" fill="#bfbbbb" stroke="#3a3a3a" stroke-width="1.1"/>
<rect x="474.50" y="91.30" width="69.20" height="10.00" fill="#bfbbbb" stroke="#3a3a3a" stroke-width="1.1"/>
<rect x="474.50" y="101.30" width="12.25" height="10.00" fill="#5b1a91" stroke="#3a3a3a" stroke-width="1.1"/>
<rect x="486.75" y="101.30" width="21.87" height="10.00" fill="#9d3fc3" stroke="#3a3a3a" stroke-width="1.1"/>
<rect x="508.62" y="101.30" width="21.94" height="10.00" fill="#eec4f3" stroke="#3a3a3a" stroke-width="1.1"/>
<rect x="530.55" y="101.30" width="13.15" height="10.00" fill="#bfbbbb" stroke="#3a3a3a" stroke-width="1.1"/>
<rect x="474.50" y="111.30" width="1.73" height="10.00" fill="#5b1a91" stroke="#3a3a3a" stroke-width="1.1"/>
<rect x="476.23" y="111.30" width="2.35" height="10.00" fill="#9d3fc3" stroke="#3a3a3a" stroke-width="1.1"/>
<rect x="478.58" y="111.30" width="3.53" height="10.00" fill="#eec4f3" stroke="#3a3a3a" stroke-width="1.1"/>
<rect x="482.11" y="111.30" width="5.26" height="10.00" fill="#92a8da" stroke="#3a3a3a" stroke-width="1.1"/>
<rect x="487.37" y="111.30" width="50.24" height="10.00" fill="#b5e6f1" stroke="#3a3a3a" stroke-width="1.1"/>
<rect x="537.61" y="111.30" width="6.09" height="10.00" fill="#bfbbbb" stroke="#3a3a3a" stroke-width="1.1"/>
<rect x="474.50" y="121.30" width="8.17" height="10.00" fill="#5b1a91" stroke="#3a3a3a" stroke-width="1.1"/>
<rect x="482.67" y="121.30" width="13.08" height="10.00" fill="#9d3fc3" stroke="#3a3a3a" stroke-width="1.1"/>
<rect x="495.74" y="121.30" width="14.39" height="10.00" fill="#eec4f3" stroke="#3a3a3a" stroke-width="1.1"/>
<rect x="510.14" y="121.30" width="7.40" height="10.00" fill="#92a8da" stroke="#3a3a3a" stroke-width="1.1"/>
<rect x="517.54" y="121.30" width="26.16" height="10.00" fill="#b5e6f1" stroke="#3a3a3a" stroke-width="1.1"/>
<rect x="474.50" y="131.30" width="69.20" height="10.00" fill="#b5e6f1" stroke="#3a3a3a" stroke-width="1.1"/>
<rect x="474.50" y="141.30" width="8.17" height="10.00" fill="#5b1a91" stroke="#3a3a3a" stroke-width="1.1"/>
<rect x="482.67" y="141.30" width="13.08" height="10.00" fill="#9d3fc3" stroke="#3a3a3a" stroke-width="1.1"/>
<rect x="495.74" y="141.30" width="14.39" height="10.00" fill="#eec4f3" stroke="#3a3a3a" stroke-width="1.1"/>
<rect x="510.14" y="141.30" width="7.40" height="10.00" fill="#92a8da" stroke="#3a3a3a" stroke-width="1.1"/>
<rect x="517.54" y="141.30" width="26.16" height="10.00" fill="#b5e6f1" stroke="#3a3a3a" stroke-width="1.1"/>
<rect x="474.50" y="151.30" width="69.20" height="10.00" fill="#bfbbbb" stroke="#3a3a3a" stroke-width="1.1"/>
<rect x="474.50" y="161.30" width="69.20" height="10.00" fill="#b5e6f1" stroke="#3a3a3a" stroke-width="1.1"/>
<rect x="474.50" y="171.30" width="69.20" height="10.00" fill="#bfbbbb" stroke="#3a3a3a" stroke-width="1.1"/>
<rect x="474.50" y="181.30" width="8.17" height="10.00" fill="#5b1a91" stroke="#3a3a3a" stroke-width="1.1"/>
<rect x="482.67" y="181.30" width="13.08" height="10.00" fill="#9d3fc3" stroke="#3a3a3a" stroke-width="1.1"/>
<rect x="495.74" y="181.30" width="14.39" height="10.00" fill="#eec4f3" stroke="#3a3a3a" stroke-width="1.1"/>
<rect x="510.14" y="181.30" width="7.40" height="10.00" fill="#92a8da" stroke="#3a3a3a" stroke-width="1.1"/>
<rect x="517.54" y="181.30" width="26.16" height="10.00" fill="#b5e6f1" stroke="#3a3a3a" stroke-width="1.1"/>
<rect x="474.50" y="191.30" width="3.74" height="10.00" fill="#5b1a91" stroke="#3a3a3a" stroke-width="1.1"/>
<rect x="478.24" y="191.30" width="6.99" height="10.00" fill="#9d3fc3" stroke="#3a3a3a" stroke-width="1.1"/>
<rect x="485.23" y="191.30" width="29.62" height="10.00" fill="#eec4f3" stroke="#3a3a3a" stroke-width="1.1"/>
<rect x="514.84" y="191.30" width="3.46" height="10.00" fill="#92a8da" stroke="#3a3a3a" stroke-width="1.1"/>
<rect x="518.30" y="191.30" width="14.05" height="10.00" fill="#b5e6f1" stroke="#3a3a3a" stroke-width="1.1"/>
<rect x="532.35" y="191.30" width="11.35" height="10.00" fill="#bfbbbb" stroke="#3a3a3a" stroke-width="1.1"/>
<rect x="474.50" y="201.30" width="10.52" height="10.00" fill="#5b1a91" stroke="#3a3a3a" stroke-width="1.1"/>
<rect x="485.02" y="201.30" width="9.34" height="10.00" fill="#92a8da" stroke="#3a3a3a" stroke-width="1.1"/>
<rect x="494.36" y="201.30" width="33.91" height="10.00" fill="#b5e6f1" stroke="#3a3a3a" stroke-width="1.1"/>
<rect x="528.27" y="201.30" width="15.43" height="10.00" fill="#bfbbbb" stroke="#3a3a3a" stroke-width="1.1"/>
<rect x="474.50" y="211.30" width="69.20" height="10.00" fill="#b5e6f1" stroke="#3a3a3a" stroke-width="1.1"/>
<text x="473.70" y="9.90" text-anchor="end" font-style="italic" font-size="9" fill="#444" stroke="#444" stroke-width="0.2">cs23 (IL4)</text>
<text x="473.70" y="19.90" text-anchor="end" font-style="italic" font-size="9" fill="#444" stroke="#444" stroke-width="0.2">cs24 (IRF1)</text>
<text x="473.70" y="29.90" text-anchor="end" font-style="italic" font-size="9" fill="#444" stroke="#444" stroke-width="0.2">cs25 (IL13)</text>
<text x="473.70" y="39.90" text-anchor="end" font-style="italic" font-size="9" fill="#444" stroke="#444" stroke-width="0.2">cs26 (LEAP2)</text>
<text x="473.70" y="49.90" text-anchor="end" font-style="italic" font-size="9" fill="#444" stroke="#444" stroke-width="0.2">cs27 (GJA10)</text>
<text x="473.70" y="59.90" text-anchor="end" font-style="italic" font-size="9" fill="#444" stroke="#444" stroke-width="0.2">cs28 (BACH2)</text>
<text x="473.70" y="69.90" text-anchor="end" font-style="italic" font-size="9" fill="#444" stroke="#444" stroke-width="0.2">cs29 (ABCB5)</text>
<text x="473.70" y="79.90" text-anchor="end" font-style="italic" font-size="9" fill="#444" stroke="#444" stroke-width="0.2">cs30 (IL6)</text>
<text x="473.70" y="89.90" text-anchor="end" font-style="italic" font-size="9" fill="#444" stroke="#444" stroke-width="0.2">cs31 (ZBTB10)</text>
<text x="473.70" y="99.90" text-anchor="end" font-style="italic" font-size="9" fill="#444" stroke="#444" stroke-width="0.2">cs32 (MYC)</text>
<text x="473.70" y="109.90" text-anchor="end" font-style="italic" font-size="9" fill="#444" stroke="#444" stroke-width="0.2">cs33 (IL33)</text>
<text x="473.70" y="119.90" text-anchor="end" font-style="italic" font-size="9" fill="#444" stroke="#444" stroke-width="0.2">cs34 (RANBP6)</text>
<text x="473.70" y="129.90" text-anchor="end" font-style="italic" font-size="9" fill="#444" stroke="#444" stroke-width="0.2">cs35 (ARRDC1)</text>
<text x="473.70" y="139.90" text-anchor="end" font-style="italic" font-size="9" fill="#444" stroke="#444" stroke-width="0.2">cs36 (PRKCQ)</text>
<text x="473.70" y="149.90" text-anchor="end" font-style="italic" font-size="9" fill="#444" stroke="#444" stroke-width="0.2">cs37 (IL2RA)</text>
<text x="473.70" y="159.90" text-anchor="end" font-style="italic" font-size="9" fill="#444" stroke="#444" stroke-width="0.2">cs38 (GATA3)</text>
<text x="473.70" y="169.90" text-anchor="end" font-style="italic" font-size="9" fill="#444" stroke="#444" stroke-width="0.2">cs39 (GATA3)</text>
<text x="473.70" y="179.90" text-anchor="end" font-style="italic" font-size="9" fill="#444" stroke="#444" stroke-width="0.2">cs40 (GATA3)</text>
<text x="473.70" y="189.90" text-anchor="end" font-style="italic" font-size="9" fill="#444" stroke="#444" stroke-width="0.2">cs41 (OVOL1)</text>
<text x="473.70" y="199.90" text-anchor="end" font-style="italic" font-size="9" fill="#444" stroke="#444" stroke-width="0.2">cs42 (LRRC32)</text>
<text x="473.70" y="209.90" text-anchor="end" font-style="italic" font-size="9" fill="#444" stroke="#444" stroke-width="0.2">cs43 (LRRC32)</text>
<text x="473.70" y="219.90" text-anchor="end" font-style="italic" font-size="9" fill="#444" stroke="#444" stroke-width="0.2">cs44 (CXCR5)</text>
<line x1="474.50" y1="223.00" x2="543.70" y2="223.00" stroke="#c8c8c8" stroke-width="0.8"/>
<line x1="474.50" y1="222.50" x2="474.50" y2="224.50" stroke="#888" stroke-width="0.7"/>
<text x="0" y="0" transform="translate(476.30,230.80) rotate(-28)" text-anchor="middle" dominant-baseline="central" font-size="9.5" fill="#444" stroke="#444" stroke-width="0.25">0.0</text>
<line x1="488.34" y1="222.50" x2="488.34" y2="224.50" stroke="#888" stroke-width="0.7"/>
<text x="0" y="0" transform="translate(490.14,230.80) rotate(-28)" text-anchor="middle" dominant-baseline="central" font-size="9.5" fill="#444" stroke="#444" stroke-width="0.25">0.2</text>
<line x1="502.18" y1="222.50" x2="502.18" y2="224.50" stroke="#888" stroke-width="0.7"/>
<text x="0" y="0" transform="translate(503.98,230.80) rotate(-28)" text-anchor="middle" dominant-baseline="central" font-size="9.5" fill="#444" stroke="#444" stroke-width="0.25">0.4</text>
<line x1="516.02" y1="222.50" x2="516.02" y2="224.50" stroke="#888" stroke-width="0.7"/>
<text x="0" y="0" transform="translate(517.82,230.80) rotate(-28)" text-anchor="middle" dominant-baseline="central" font-size="9.5" fill="#444" stroke="#444" stroke-width="0.25">0.6</text>
<line x1="529.86" y1="222.50" x2="529.86" y2="224.50" stroke="#888" stroke-width="0.7"/>
<text x="0" y="0" transform="translate(531.66,230.80) rotate(-28)" text-anchor="middle" dominant-baseline="central" font-size="9.5" fill="#444" stroke="#444" stroke-width="0.25">0.8</text>
<line x1="543.70" y1="222.50" x2="543.70" y2="224.50" stroke="#888" stroke-width="0.7"/>
<text x="0" y="0" transform="translate(545.50,230.80) rotate(-28)" text-anchor="middle" dominant-baseline="central" font-size="9.5" fill="#444" stroke="#444" stroke-width="0.25">1.0</text>
<text x="512.8" y="245.8" text-anchor="middle" font-size="10" fill="#111" stroke="#111" stroke-width="0.25">Proportion of total PIP</text>
<rect x="641.20" y="0" width="2.88" height="2.30" fill="#5b1a91"/>
<rect x="641.20" y="1.30" width="2.88" height="9.58" fill="#5b1a91" stroke="#3a3a3a" stroke-width="1.1"/>
<rect x="644.08" y="0" width="1.44" height="2.30" fill="#eec4f3"/>
<rect x="644.08" y="1.30" width="1.44" height="9.58" fill="#eec4f3" stroke="#3a3a3a" stroke-width="1.1"/>
<rect x="645.52" y="0" width="63.11" height="2.30" fill="#b5e6f1"/>
<rect x="645.52" y="1.30" width="63.11" height="9.58" fill="#b5e6f1" stroke="#3a3a3a" stroke-width="1.1"/>
<rect x="708.63" y="0" width="1.17" height="2.30" fill="#bfbbbb"/>
<rect x="708.63" y="1.30" width="1.17" height="9.58" fill="#bfbbbb" stroke="#3a3a3a" stroke-width="1.1"/>
<rect x="641.20" y="10.88" width="3.16" height="9.58" fill="#5b1a91" stroke="#3a3a3a" stroke-width="1.1"/>
<rect x="644.36" y="10.88" width="1.17" height="9.58" fill="#eec4f3" stroke="#3a3a3a" stroke-width="1.1"/>
<rect x="645.52" y="10.88" width="3.84" height="9.58" fill="#92a8da" stroke="#3a3a3a" stroke-width="1.1"/>
<rect x="649.36" y="10.88" width="2.33" height="9.58" fill="#b5e6f1" stroke="#3a3a3a" stroke-width="1.1"/>
<rect x="651.70" y="10.88" width="58.10" height="9.58" fill="#bfbbbb" stroke="#3a3a3a" stroke-width="1.1"/>
<rect x="641.20" y="20.46" width="68.60" height="9.58" fill="#bfbbbb" stroke="#3a3a3a" stroke-width="1.1"/>
<rect x="641.20" y="30.04" width="24.42" height="9.58" fill="#9d3fc3" stroke="#3a3a3a" stroke-width="1.1"/>
<rect x="665.62" y="30.04" width="12.42" height="9.58" fill="#92a8da" stroke="#3a3a3a" stroke-width="1.1"/>
<rect x="678.04" y="30.04" width="19.55" height="9.58" fill="#b5e6f1" stroke="#3a3a3a" stroke-width="1.1"/>
<rect x="697.59" y="30.04" width="12.21" height="9.58" fill="#bfbbbb" stroke="#3a3a3a" stroke-width="1.1"/>
<rect x="641.20" y="39.62" width="2.33" height="9.58" fill="#5b1a91" stroke="#3a3a3a" stroke-width="1.1"/>
<rect x="643.53" y="39.62" width="13.93" height="9.58" fill="#b5e6f1" stroke="#3a3a3a" stroke-width="1.1"/>
<rect x="657.46" y="39.62" width="52.34" height="9.58" fill="#bfbbbb" stroke="#3a3a3a" stroke-width="1.1"/>
<rect x="641.20" y="49.20" width="5.83" height="9.58" fill="#5b1a91" stroke="#3a3a3a" stroke-width="1.1"/>
<rect x="647.03" y="49.20" width="10.08" height="9.58" fill="#9d3fc3" stroke="#3a3a3a" stroke-width="1.1"/>
<rect x="657.12" y="49.20" width="11.39" height="9.58" fill="#eec4f3" stroke="#3a3a3a" stroke-width="1.1"/>
<rect x="668.50" y="49.20" width="4.87" height="9.58" fill="#92a8da" stroke="#3a3a3a" stroke-width="1.1"/>
<rect x="673.37" y="49.20" width="19.35" height="9.58" fill="#b5e6f1" stroke="#3a3a3a" stroke-width="1.1"/>
<rect x="692.72" y="49.20" width="17.08" height="9.58" fill="#bfbbbb" stroke="#3a3a3a" stroke-width="1.1"/>
<rect x="641.20" y="58.78" width="15.43" height="9.58" fill="#eec4f3" stroke="#3a3a3a" stroke-width="1.1"/>
<rect x="656.63" y="58.78" width="53.16" height="9.58" fill="#bfbbbb" stroke="#3a3a3a" stroke-width="1.1"/>
<rect x="641.20" y="68.36" width="3.16" height="9.58" fill="#5b1a91" stroke="#3a3a3a" stroke-width="1.1"/>
<rect x="644.36" y="68.36" width="1.17" height="9.58" fill="#eec4f3" stroke="#3a3a3a" stroke-width="1.1"/>
<rect x="645.52" y="68.36" width="62.29" height="9.58" fill="#b5e6f1" stroke="#3a3a3a" stroke-width="1.1"/>
<rect x="707.81" y="68.36" width="1.99" height="9.58" fill="#bfbbbb" stroke="#3a3a3a" stroke-width="1.1"/>
<rect x="641.20" y="77.94" width="68.60" height="9.58" fill="#bfbbbb" stroke="#3a3a3a" stroke-width="1.1"/>
<rect x="641.20" y="87.52" width="8.71" height="9.58" fill="#5b1a91" stroke="#3a3a3a" stroke-width="1.1"/>
<rect x="649.91" y="87.52" width="11.66" height="9.58" fill="#9d3fc3" stroke="#3a3a3a" stroke-width="1.1"/>
<rect x="661.57" y="87.52" width="15.64" height="9.58" fill="#eec4f3" stroke="#3a3a3a" stroke-width="1.1"/>
<rect x="677.22" y="87.52" width="6.17" height="9.58" fill="#92a8da" stroke="#3a3a3a" stroke-width="1.1"/>
<rect x="683.39" y="87.52" width="26.41" height="9.58" fill="#b5e6f1" stroke="#3a3a3a" stroke-width="1.1"/>
<rect x="641.20" y="97.10" width="12.76" height="9.58" fill="#5b1a91" stroke="#3a3a3a" stroke-width="1.1"/>
<rect x="653.96" y="97.10" width="9.67" height="9.58" fill="#9d3fc3" stroke="#3a3a3a" stroke-width="1.1"/>
<rect x="663.63" y="97.10" width="13.58" height="9.58" fill="#eec4f3" stroke="#3a3a3a" stroke-width="1.1"/>
<rect x="677.22" y="97.10" width="5.14" height="9.58" fill="#92a8da" stroke="#3a3a3a" stroke-width="1.1"/>
<rect x="682.36" y="97.10" width="27.44" height="9.58" fill="#bfbbbb" stroke="#3a3a3a" stroke-width="1.1"/>
<rect x="641.20" y="106.68" width="1.17" height="9.58" fill="#5b1a91" stroke="#3a3a3a" stroke-width="1.1"/>
<rect x="642.37" y="106.68" width="5.69" height="9.58" fill="#9d3fc3" stroke="#3a3a3a" stroke-width="1.1"/>
<rect x="648.06" y="106.68" width="2.47" height="9.58" fill="#92a8da" stroke="#3a3a3a" stroke-width="1.1"/>
<rect x="650.53" y="106.68" width="31.35" height="9.58" fill="#b5e6f1" stroke="#3a3a3a" stroke-width="1.1"/>
<rect x="681.88" y="106.68" width="27.92" height="9.58" fill="#bfbbbb" stroke="#3a3a3a" stroke-width="1.1"/>
<rect x="641.20" y="116.26" width="15.43" height="9.58" fill="#9d3fc3" stroke="#3a3a3a" stroke-width="1.1"/>
<rect x="656.63" y="116.26" width="4.32" height="9.58" fill="#92a8da" stroke="#3a3a3a" stroke-width="1.1"/>
<rect x="660.96" y="116.26" width="48.84" height="9.58" fill="#bfbbbb" stroke="#3a3a3a" stroke-width="1.1"/>
<rect x="641.20" y="125.84" width="1.72" height="9.58" fill="#5b1a91" stroke="#3a3a3a" stroke-width="1.1"/>
<rect x="642.92" y="125.84" width="5.83" height="9.58" fill="#9d3fc3" stroke="#3a3a3a" stroke-width="1.1"/>
<rect x="648.75" y="125.84" width="34.30" height="9.58" fill="#eec4f3" stroke="#3a3a3a" stroke-width="1.1"/>
<rect x="683.05" y="125.84" width="1.03" height="9.58" fill="#92a8da" stroke="#3a3a3a" stroke-width="1.1"/>
<rect x="684.08" y="125.84" width="2.40" height="9.58" fill="#b5e6f1" stroke="#3a3a3a" stroke-width="1.1"/>
<rect x="686.48" y="125.84" width="23.32" height="9.58" fill="#bfbbbb" stroke="#3a3a3a" stroke-width="1.1"/>
<rect x="641.20" y="135.42" width="65.72" height="9.58" fill="#9d3fc3" stroke="#3a3a3a" stroke-width="1.1"/>
<rect x="706.92" y="135.42" width="2.88" height="9.58" fill="#bfbbbb" stroke="#3a3a3a" stroke-width="1.1"/>
<rect x="641.20" y="145.00" width="68.60" height="9.58" fill="#bfbbbb" stroke="#3a3a3a" stroke-width="1.1"/>
<rect x="641.20" y="154.58" width="5.21" height="9.58" fill="#9d3fc3" stroke="#3a3a3a" stroke-width="1.1"/>
<rect x="646.41" y="154.58" width="11.39" height="9.58" fill="#92a8da" stroke="#3a3a3a" stroke-width="1.1"/>
<rect x="657.80" y="154.58" width="46.51" height="9.58" fill="#b5e6f1" stroke="#3a3a3a" stroke-width="1.1"/>
<rect x="704.31" y="154.58" width="5.49" height="9.58" fill="#bfbbbb" stroke="#3a3a3a" stroke-width="1.1"/>
<rect x="641.20" y="164.16" width="62.22" height="9.58" fill="#eec4f3" stroke="#3a3a3a" stroke-width="1.1"/>
<rect x="703.42" y="164.16" width="6.38" height="9.58" fill="#bfbbbb" stroke="#3a3a3a" stroke-width="1.1"/>
<rect x="641.20" y="173.74" width="66.27" height="9.58" fill="#b5e6f1" stroke="#3a3a3a" stroke-width="1.1"/>
<rect x="707.47" y="173.74" width="2.33" height="9.58" fill="#bfbbbb" stroke="#3a3a3a" stroke-width="1.1"/>
<rect x="641.20" y="183.32" width="7.55" height="9.58" fill="#92a8da" stroke="#3a3a3a" stroke-width="1.1"/>
<rect x="648.75" y="183.32" width="61.05" height="9.58" fill="#bfbbbb" stroke="#3a3a3a" stroke-width="1.1"/>
<rect x="641.20" y="192.90" width="13.38" height="9.58" fill="#9d3fc3" stroke="#3a3a3a" stroke-width="1.1"/>
<rect x="654.58" y="192.90" width="16.81" height="9.58" fill="#eec4f3" stroke="#3a3a3a" stroke-width="1.1"/>
<rect x="671.38" y="192.90" width="7.00" height="9.58" fill="#92a8da" stroke="#3a3a3a" stroke-width="1.1"/>
<rect x="678.38" y="192.90" width="28.26" height="9.58" fill="#b5e6f1" stroke="#3a3a3a" stroke-width="1.1"/>
<rect x="706.64" y="192.90" width="3.16" height="9.58" fill="#bfbbbb" stroke="#3a3a3a" stroke-width="1.1"/>
<rect x="641.20" y="202.48" width="30.60" height="9.58" fill="#9d3fc3" stroke="#3a3a3a" stroke-width="1.1"/>
<rect x="671.80" y="202.48" width="38.00" height="9.58" fill="#eec4f3" stroke="#3a3a3a" stroke-width="1.1"/>
<rect x="641.20" y="212.06" width="8.71" height="9.58" fill="#5b1a91" stroke="#3a3a3a" stroke-width="1.1"/>
<rect x="649.91" y="212.06" width="11.66" height="9.58" fill="#9d3fc3" stroke="#3a3a3a" stroke-width="1.1"/>
<rect x="661.57" y="212.06" width="15.64" height="9.58" fill="#eec4f3" stroke="#3a3a3a" stroke-width="1.1"/>
<rect x="677.22" y="212.06" width="6.17" height="9.58" fill="#92a8da" stroke="#3a3a3a" stroke-width="1.1"/>
<rect x="683.39" y="212.06" width="26.41" height="9.58" fill="#b5e6f1" stroke="#3a3a3a" stroke-width="1.1"/>
<text x="639.90" y="9.69" text-anchor="end" font-style="italic" font-size="9" fill="#444" stroke="#444" stroke-width="0.2">cs45 (CXCR5)</text>
<text x="639.90" y="19.27" text-anchor="end" font-style="italic" font-size="9" fill="#444" stroke="#444" stroke-width="0.2">cs46 (AQP2)</text>
<text x="639.90" y="28.85" text-anchor="end" font-style="italic" font-size="9" fill="#444" stroke="#444" stroke-width="0.2">cs47 (TESPA1)</text>
<text x="639.90" y="38.43" text-anchor="end" font-style="italic" font-size="9" fill="#444" stroke="#444" stroke-width="0.2">cs48 (LRP1)</text>
<text x="639.90" y="48.01" text-anchor="end" font-style="italic" font-size="9" fill="#444" stroke="#444" stroke-width="0.2">cs49 (NAB2)</text>
<text x="639.90" y="57.59" text-anchor="end" font-style="italic" font-size="9" fill="#444" stroke="#444" stroke-width="0.2">cs50 (RPS26)</text>
<text x="639.90" y="67.17" text-anchor="end" font-style="italic" font-size="9" fill="#444" stroke="#444" stroke-width="0.2">cs51 (SPPL3)</text>
<text x="639.90" y="76.75" text-anchor="end" font-style="italic" font-size="9" fill="#444" stroke="#444" stroke-width="0.2">cs52 (TM9SF2)</text>
<text x="639.90" y="86.33" text-anchor="end" font-style="italic" font-size="9" fill="#444" stroke="#444" stroke-width="0.2">cs53 (ICE2)</text>
<text x="639.90" y="95.91" text-anchor="end" font-style="italic" font-size="9" fill="#444" stroke="#444" stroke-width="0.2">cs54 (SMAD3)</text>
<text x="639.90" y="105.49" text-anchor="end" font-style="italic" font-size="9" fill="#444" stroke="#444" stroke-width="0.2">cs55 (SMAD3)</text>
<text x="639.90" y="115.07" text-anchor="end" font-style="italic" font-size="9" fill="#444" stroke="#444" stroke-width="0.2">cs56 (IQCH)</text>
<text x="639.90" y="124.65" text-anchor="end" font-style="italic" font-size="9" fill="#444" stroke="#444" stroke-width="0.2">cs57 (RMI2)</text>
<text x="639.90" y="134.23" text-anchor="end" font-style="italic" font-size="9" fill="#444" stroke="#444" stroke-width="0.2">cs58 (IL4R)</text>
<text x="639.90" y="143.81" text-anchor="end" font-style="italic" font-size="9" fill="#444" stroke="#444" stroke-width="0.2">cs59 (NOD2)</text>
<text x="639.90" y="153.39" text-anchor="end" font-style="italic" font-size="9" fill="#444" stroke="#444" stroke-width="0.2">cs60 (GSDMB)</text>
<text x="639.90" y="162.97" text-anchor="end" font-style="italic" font-size="9" fill="#444" stroke="#444" stroke-width="0.2">cs61 (CCR7)</text>
<text x="639.90" y="172.55" text-anchor="end" font-style="italic" font-size="9" fill="#444" stroke="#444" stroke-width="0.2">cs62 (STAT5B)</text>
<text x="639.90" y="182.13" text-anchor="end" font-style="italic" font-size="9" fill="#444" stroke="#444" stroke-width="0.2">cs63 (TBX21)</text>
<text x="639.90" y="191.71" text-anchor="end" font-style="italic" font-size="9" fill="#444" stroke="#444" stroke-width="0.2">cs64 (ZNF652)</text>
<text x="639.90" y="201.29" text-anchor="end" font-style="italic" font-size="9" fill="#444" stroke="#444" stroke-width="0.2">cs65 (TNFRSF11A)</text>
<text x="639.90" y="210.87" text-anchor="end" font-style="italic" font-size="9" fill="#444" stroke="#444" stroke-width="0.2">cs66 (SERPINB7)</text>
<text x="639.90" y="220.45" text-anchor="end" font-style="italic" font-size="9" fill="#444" stroke="#444" stroke-width="0.2">cs67 (SLC7A10)</text>
<line x1="641.20" y1="223.00" x2="709.80" y2="223.00" stroke="#c8c8c8" stroke-width="0.8"/>
<line x1="641.20" y1="222.50" x2="641.20" y2="224.50" stroke="#888" stroke-width="0.7"/>
<text x="0" y="0" transform="translate(643.00,230.80) rotate(-28)" text-anchor="middle" dominant-baseline="central" font-size="9.5" fill="#444" stroke="#444" stroke-width="0.25">0.0</text>
<line x1="654.92" y1="222.50" x2="654.92" y2="224.50" stroke="#888" stroke-width="0.7"/>
<text x="0" y="0" transform="translate(656.72,230.80) rotate(-28)" text-anchor="middle" dominant-baseline="central" font-size="9.5" fill="#444" stroke="#444" stroke-width="0.25">0.2</text>
<line x1="668.64" y1="222.50" x2="668.64" y2="224.50" stroke="#888" stroke-width="0.7"/>
<text x="0" y="0" transform="translate(670.44,230.80) rotate(-28)" text-anchor="middle" dominant-baseline="central" font-size="9.5" fill="#444" stroke="#444" stroke-width="0.25">0.4</text>
<line x1="682.36" y1="222.50" x2="682.36" y2="224.50" stroke="#888" stroke-width="0.7"/>
<text x="0" y="0" transform="translate(684.16,230.80) rotate(-28)" text-anchor="middle" dominant-baseline="central" font-size="9.5" fill="#444" stroke="#444" stroke-width="0.25">0.6</text>
<line x1="696.08" y1="222.50" x2="696.08" y2="224.50" stroke="#888" stroke-width="0.7"/>
<text x="0" y="0" transform="translate(697.88,230.80) rotate(-28)" text-anchor="middle" dominant-baseline="central" font-size="9.5" fill="#444" stroke="#444" stroke-width="0.25">0.8</text>
<line x1="709.80" y1="222.50" x2="709.80" y2="224.50" stroke="#888" stroke-width="0.7"/>
<text x="0" y="0" transform="translate(711.60,230.80) rotate(-28)" text-anchor="middle" dominant-baseline="central" font-size="9.5" fill="#444" stroke="#444" stroke-width="0.25">1.0</text>
<rect x="713.80" y="85.40" width="3.60" height="8.65" fill="#bfbbbb" stroke="#555" stroke-width="0.6"/>
<text x="719.60" y="93.13" font-size="9.5" fill="#111" stroke="#111" stroke-width="0.25">none</text>
<rect x="713.80" y="94.05" width="3.60" height="8.65" fill="#b5e6f1" stroke="#555" stroke-width="0.6"/>
<text x="719.60" y="101.78" font-size="9.5" fill="#111" stroke="#111" stroke-width="0.25">lymphoid</text>
<rect x="713.80" y="102.70" width="3.60" height="8.65" fill="#92a8da" stroke="#555" stroke-width="0.6"/>
<text x="719.60" y="110.43" font-size="9.5" fill="#111" stroke="#111" stroke-width="0.25">myeloid</text>
<rect x="713.80" y="111.35" width="3.60" height="8.65" fill="#eec4f3" stroke="#555" stroke-width="0.6"/>
<text x="719.60" y="119.08" font-size="9.5" fill="#111" stroke="#111" stroke-width="0.25">epithelial</text>
<rect x="713.80" y="120.00" width="3.60" height="8.65" fill="#9d3fc3" stroke="#555" stroke-width="0.6"/>
<text x="719.60" y="127.73" font-size="9.5" fill="#111" stroke="#111" stroke-width="0.25">mesenchymal</text>
<rect x="713.80" y="128.65" width="3.60" height="8.65" fill="#5b1a91" stroke="#555" stroke-width="0.6"/>
<text x="719.60" y="136.38" font-size="9.5" fill="#111" stroke="#111" stroke-width="0.25">endothelial</text>
<text x="-0.6" y="267.2" font-size="15.5" font-weight="bold" fill="#000">C</text>
<line x1="36.4" y1="424.80" x2="215.6" y2="424.80" stroke="#f0f0f0" stroke-width="0.7"/>
<line x1="36.4" y1="411.18" x2="215.6" y2="411.18" stroke="#f0f0f0" stroke-width="0.7"/>
<line x1="36.4" y1="397.55" x2="215.6" y2="397.55" stroke="#f0f0f0" stroke-width="0.7"/>
<line x1="36.4" y1="383.93" x2="215.6" y2="383.93" stroke="#f0f0f0" stroke-width="0.7"/>
<line x1="36.4" y1="370.30" x2="215.6" y2="370.30" stroke="#f0f0f0" stroke-width="0.7"/>
<line x1="36.4" y1="356.68" x2="215.6" y2="356.68" stroke="#f0f0f0" stroke-width="0.7"/>
<line x1="36.4" y1="343.05" x2="215.6" y2="343.05" stroke="#f0f0f0" stroke-width="0.7"/>
<line x1="36.4" y1="329.43" x2="215.6" y2="329.43" stroke="#f0f0f0" stroke-width="0.7"/>
<line x1="36.4" y1="315.80" x2="215.6" y2="315.80" stroke="#f0f0f0" stroke-width="0.7"/>
<line x1="36.4" y1="302.18" x2="215.6" y2="302.18" stroke="#f0f0f0" stroke-width="0.7"/>
<line x1="36.4" y1="288.55" x2="215.6" y2="288.55" stroke="#f0f0f0" stroke-width="0.7"/>
<line x1="60.8" y1="279" x2="60.8" y2="424.8" stroke="#f0f0f0" stroke-width="0.7"/>
<line x1="103.6" y1="279" x2="103.6" y2="424.8" stroke="#f0f0f0" stroke-width="0.7"/>
<line x1="146.3" y1="279" x2="146.3" y2="424.8" stroke="#f0f0f0" stroke-width="0.7"/>
<line x1="189.0" y1="279" x2="189.0" y2="424.8" stroke="#f0f0f0" stroke-width="0.7"/>
<rect x="43.80" y="378.48" width="17.0" height="46.33" fill="#66cdd1"/>
<rect x="60.80" y="296.73" width="17.0" height="128.08" fill="#f8c86e"/>
<rect x="86.60" y="396.19" width="17.0" height="28.61" fill="#66cdd1"/>
<rect x="103.60" y="366.21" width="17.0" height="58.59" fill="#f8c86e"/>
<rect x="129.30" y="419.35" width="17.0" height="5.45" fill="#66cdd1"/>
<rect x="146.30" y="411.18" width="17.0" height="13.62" fill="#f8c86e"/>
<rect x="172.00" y="420.71" width="17.0" height="4.09" fill="#66cdd1"/>
<rect x="189.00" y="394.82" width="17.0" height="29.98" fill="#f8c86e"/>
<text x="32.8" y="429.00" text-anchor="end" font-size="12" fill="#4d4d4d" stroke="#4d4d4d" stroke-width="0.25">0</text>
<text x="32.8" y="401.75" text-anchor="end" font-size="12" fill="#4d4d4d" stroke="#4d4d4d" stroke-width="0.25">20</text>
<text x="32.8" y="374.50" text-anchor="end" font-size="12" fill="#4d4d4d" stroke="#4d4d4d" stroke-width="0.25">40</text>
<text x="32.8" y="347.25" text-anchor="end" font-size="12" fill="#4d4d4d" stroke="#4d4d4d" stroke-width="0.25">60</text>
<text x="32.8" y="320.00" text-anchor="end" font-size="12" fill="#4d4d4d" stroke="#4d4d4d" stroke-width="0.25">80</text>
<text x="32.8" y="292.75" text-anchor="end" font-size="12" fill="#4d4d4d" stroke="#4d4d4d" stroke-width="0.25">100</text>
<text transform="translate(63.80,441.5) rotate(-30)" text-anchor="middle" dominant-baseline="central" font-size="12.5" fill="#3d3d3d" stroke="#3d3d3d" stroke-width="0.25">≤0.1</text>
<text transform="translate(106.60,441.5) rotate(-30)" text-anchor="middle" dominant-baseline="central" font-size="12.5" fill="#3d3d3d" stroke="#3d3d3d" stroke-width="0.25">0.1–0.5</text>
<text transform="translate(149.30,441.5) rotate(-30)" text-anchor="middle" dominant-baseline="central" font-size="12.5" fill="#3d3d3d" stroke="#3d3d3d" stroke-width="0.25">0.5–0.8</text>
<text transform="translate(192.00,441.5) rotate(-30)" text-anchor="middle" dominant-baseline="central" font-size="12.5" fill="#3d3d3d" stroke="#3d3d3d" stroke-width="0.25">&gt; 0.8</text>
<text x="124.5" y="472.8" text-anchor="middle" font-size="10" fill="#111" stroke="#111" stroke-width="0.25">ePIP</text>
<text transform="translate(9.2,356.3) rotate(-90)" text-anchor="middle" font-size="9.5" fill="#111" stroke="#111" stroke-width="0.25">Count</text>
<rect x="222.5" y="345" width="7.5" height="11.4" fill="#66cdd1"/>
<rect x="222.5" y="356.4" width="7.5" height="11.4" fill="#f8c86e"/>
<text x="233.3" y="355" font-size="12" fill="#111" stroke="#111" stroke-width="0.25">AOA</text>
<text x="233.3" y="366.6" font-size="12" fill="#111" stroke="#111" stroke-width="0.25">COA</text>
<text x="273.3" y="267.3" font-size="15.5" font-weight="bold" fill="#000">D</text>
<path d="M343.6,353.2 L343.60,295.60 A57.6,57.6 0 0 1 400.04,341.72 Z" fill="#5b1a8c"/>
<path d="M343.6,353.2 L400.04,341.72 A57.6,57.6 0 0 1 394.36,380.42 Z" fill="#9b3fc4"/>
<path d="M343.6,353.2 L394.36,380.42 A57.6,57.6 0 0 1 358.12,408.94 Z" fill="#e8c4f0"/>
<path d="M343.6,353.2 L358.12,408.94 A57.6,57.6 0 0 1 298.46,388.98 Z" fill="#7e9ad6"/>
<path d="M343.6,353.2 L298.46,388.98 A57.6,57.6 0 0 1 343.60,295.60 Z" fill="#b4e2f2"/>
<text x="364.8" y="331.50" text-anchor="middle" font-size="12" font-weight="bold" fill="#fff">21%</text>
<text x="378" y="363.00" text-anchor="middle" font-size="12" font-weight="bold" fill="#fff">11%</text>
<text x="364.8" y="385.30" text-anchor="middle" font-size="12" font-weight="bold" fill="#fff">13%</text>
<text x="333.2" y="391.30" text-anchor="middle" font-size="12" font-weight="bold" fill="#fff">19%</text>
<text x="313.3" y="343.10" text-anchor="middle" font-size="12" font-weight="bold" fill="#fff">36%</text>
<text x="419.3" y="325.6" font-size="13.3" fill="#111" stroke="#111" stroke-width="0.25">Number of lineages</text>
<rect x="419" y="331.20" width="9.7" height="12.3" fill="#b4e2f2"/>
<text x="433.4" y="341.20" font-size="12" fill="#111" stroke="#111" stroke-width="0.25">1</text>
<rect x="419" y="343.50" width="9.7" height="12.3" fill="#7e9ad6"/>
<text x="433.4" y="353.50" font-size="12" fill="#111" stroke="#111" stroke-width="0.25">2</text>
<rect x="419" y="355.80" width="9.7" height="12.3" fill="#e8c4f0"/>
<text x="433.4" y="365.80" font-size="12" fill="#111" stroke="#111" stroke-width="0.25">3</text>
<rect x="419" y="368.10" width="9.7" height="12.3" fill="#9b3fc4"/>
<text x="433.4" y="378.10" font-size="12" fill="#111" stroke="#111" stroke-width="0.25">4</text>
<rect x="419" y="380.40" width="9.7" height="12.3" fill="#5b1a8c"/>
<text x="433.4" y="390.40" font-size="12" fill="#111" stroke="#111" stroke-width="0.25">5</text>
<text x="548.2" y="267.5" font-size="15.5" font-weight="bold" fill="#000">E</text>
<line x1="584.6" y1="448.60" x2="735.8" y2="448.60" stroke="#f0f0f0" stroke-width="0.7"/>
<line x1="584.6" y1="425.68" x2="735.8" y2="425.68" stroke="#f0f0f0" stroke-width="0.7"/>
<line x1="584.6" y1="402.75" x2="735.8" y2="402.75" stroke="#f0f0f0" stroke-width="0.7"/>
<line x1="584.6" y1="379.83" x2="735.8" y2="379.83" stroke="#f0f0f0" stroke-width="0.7"/>
<line x1="584.6" y1="356.90" x2="735.8" y2="356.90" stroke="#f0f0f0" stroke-width="0.7"/>
<line x1="584.6" y1="333.98" x2="735.8" y2="333.98" stroke="#f0f0f0" stroke-width="0.7"/>
<line x1="584.6" y1="311.05" x2="735.8" y2="311.05" stroke="#f0f0f0" stroke-width="0.7"/>
<line x1="584.6" y1="288.12" x2="735.8" y2="288.12" stroke="#f0f0f0" stroke-width="0.7"/>
<line x1="584.6" y1="265.20" x2="735.8" y2="265.20" stroke="#f0f0f0" stroke-width="0.7"/>
<line x1="624.9" y1="258" x2="624.9" y2="452.6" stroke="#f0f0f0" stroke-width="0.7"/>
<line x1="693.2" y1="258" x2="693.2" y2="452.6" stroke="#f0f0f0" stroke-width="0.7"/>
<text x="581.5" y="453.00" text-anchor="end" font-size="12.3" fill="#4d4d4d" stroke="#4d4d4d" stroke-width="0.25">0.0</text>
<text x="581.5" y="407.15" text-anchor="end" font-size="12.3" fill="#4d4d4d" stroke="#4d4d4d" stroke-width="0.25">0.5</text>
<text x="581.5" y="361.30" text-anchor="end" font-size="12.3" fill="#4d4d4d" stroke="#4d4d4d" stroke-width="0.25">1.0</text>
<text x="581.5" y="315.45" text-anchor="end" font-size="12.3" fill="#4d4d4d" stroke="#4d4d4d" stroke-width="0.25">1.5</text>
<text x="581.5" y="269.60" text-anchor="end" font-size="12.3" fill="#4d4d4d" stroke="#4d4d4d" stroke-width="0.25">2.0</text>
<line x1="612.0" y1="407.40" x2="612.0" y2="447.30" stroke="#333" stroke-width="0.8"/>
<rect x="600.00" y="429.50" width="24" height="15.80" fill="#66cdd1" stroke="#333" stroke-width="0.8"/>
<line x1="600.0" y1="440.30" x2="624.0" y2="440.30" stroke="#222" stroke-width="1.6"/>
<circle cx="612.0" cy="360.80" r="1.3" fill="#222"/>
<circle cx="612.0" cy="375.30" r="1.3" fill="#222"/>
<circle cx="612.0" cy="394.30" r="1.3" fill="#222"/>
<line x1="637.3" y1="400.20" x2="637.3" y2="447.30" stroke="#333" stroke-width="0.8"/>
<rect x="625.30" y="423.50" width="24" height="22.30" fill="#f8c86e" stroke="#333" stroke-width="0.8"/>
<line x1="625.3" y1="438.30" x2="649.3" y2="438.30" stroke="#222" stroke-width="1.6"/>
<circle cx="637.3" cy="357.30" r="1.3" fill="#222"/>
<circle cx="637.3" cy="356.60" r="1.3" fill="#222"/>
<circle cx="637.3" cy="380.30" r="1.3" fill="#222"/>
<circle cx="637.3" cy="379.20" r="1.3" fill="#222"/>
<circle cx="637.3" cy="387.00" r="1.3" fill="#222"/>
<line x1="679.8" y1="384.10" x2="679.8" y2="446.70" stroke="#333" stroke-width="0.8"/>
<rect x="667.80" y="413.20" width="24" height="27.10" fill="#66cdd1" stroke="#333" stroke-width="0.8"/>
<line x1="667.8" y1="433.60" x2="691.8" y2="433.60" stroke="#222" stroke-width="1.6"/>
<line x1="705.5" y1="329.60" x2="705.5" y2="446.70" stroke="#333" stroke-width="0.8"/>
<rect x="693.50" y="364.30" width="24" height="65.50" fill="#f8c86e" stroke="#333" stroke-width="0.8"/>
<line x1="693.5" y1="409.40" x2="717.5" y2="409.40" stroke="#222" stroke-width="1.6"/>
<line x1="610.3" y1="311.2" x2="679.8" y2="311.2" stroke="#333" stroke-width="1.1"/>
<line x1="637.9" y1="287.9" x2="707.2" y2="287.9" stroke="#333" stroke-width="1.1"/>
<text x="623.3" y="305.7" font-size="11.5" fill="#111" stroke="#111" stroke-width="0.25">p = 0.21</text>
<text x="633.2" y="282.4" font-size="11.5" fill="#111" stroke="#111" stroke-width="0.25">p = 5.74 × 10<tspan font-size="9.2" dx="0.3" dy="-6.4">−5</tspan></text>
<text x="624.9" y="468.8" text-anchor="middle" font-size="12.5" fill="#4d4d4d" stroke="#4d4d4d" stroke-width="0.25">MPRA−</text>
<text x="693.2" y="468.8" text-anchor="middle" font-size="12.5" fill="#4d4d4d" stroke="#4d4d4d" stroke-width="0.25">MPRA+</text>
<text x="658.6" y="480.8" text-anchor="middle" font-size="10.8" fill="#111" stroke="#111" stroke-width="0.25">Candidate CREs</text>
<text transform="translate(561.2,357) rotate(-90)" text-anchor="middle" font-size="10" fill="#111" stroke="#111" stroke-width="0.25">ePIP</text>
<line x1="743.9" y1="346.60" x2="743.9" y2="355.00" stroke="#333" stroke-width="0.6"/>
<rect x="741" y="348.20" width="5.8" height="5.2" fill="#66cdd1" stroke="#333" stroke-width="0.6"/>
<line x1="741" y1="350.80" x2="746.8" y2="350.80" stroke="#333" stroke-width="0.6"/>
<line x1="743.9" y1="358.70" x2="743.9" y2="367.10" stroke="#333" stroke-width="0.6"/>
<rect x="741" y="360.30" width="5.8" height="5.2" fill="#f8c86e" stroke="#333" stroke-width="0.6"/>
<line x1="741" y1="362.90" x2="746.8" y2="362.90" stroke="#333" stroke-width="0.6"/>
<text x="750" y="355.8" font-size="12" fill="#111" stroke="#111" stroke-width="0.25">AOA</text>
<text x="750" y="367.8" font-size="12" fill="#111" stroke="#111" stroke-width="0.25">COA</text>
</svg>
</body></html>
